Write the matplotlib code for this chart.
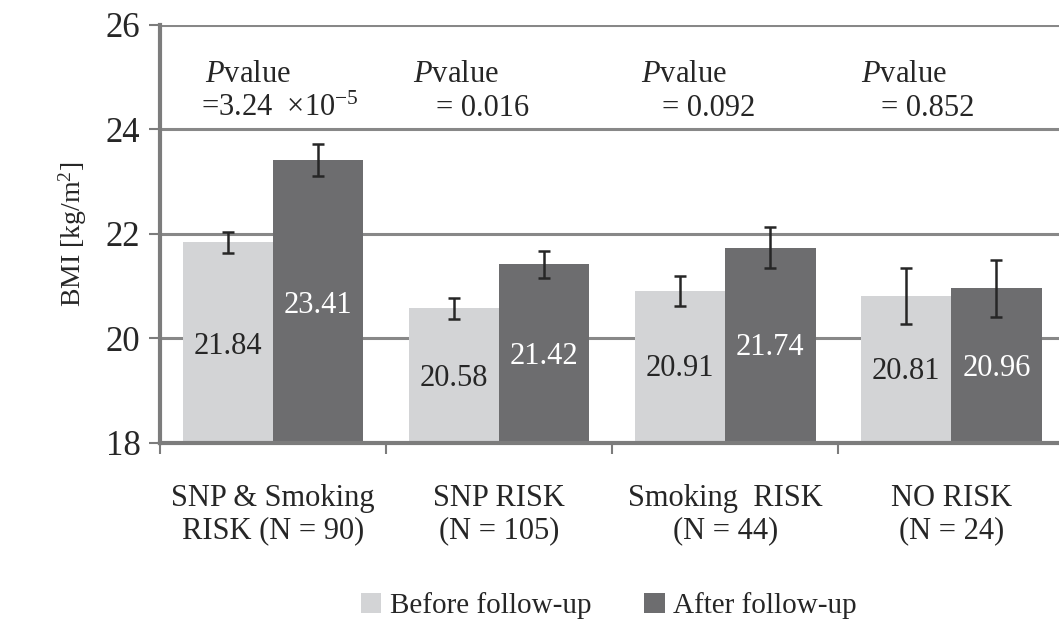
import matplotlib.pyplot as plt
import numpy as np

# BMI before and after follow-up, by risk group
groups = ['SNP & Smoking\nRISK (N = 90)', 'SNP RISK\n(N = 105)',
          'Smoking  RISK\n(N = 44)', 'NO RISK\n(N = 24)']
before = [21.84, 20.58, 20.91, 20.81]
after = [23.41, 21.42, 21.74, 20.96]
before_err = [0.20, 0.20, 0.28, 0.53]
after_err = [0.31, 0.26, 0.40, 0.55]
p_values = [r'=3.24  $\times$10$^{-5}$', '= 0.016', '= 0.092', '= 0.852']

plt.rcParams['font.family'] = ['Liberation Serif', 'DejaVu Serif']
plt.rcParams['mathtext.fontset'] = 'custom'
plt.rcParams['mathtext.rm'] = 'Liberation Serif'
plt.rcParams['mathtext.it'] = 'Liberation Serif:italic'

LIGHT = '#d3d4d6'
DARK = '#6d6d6f'
AXIS = '#7c7c7c'
TXT = '#262626'

fig = plt.figure(figsize=(10.59, 6.23), dpi=100)
ax = fig.add_axes([0.151, 0.289, 0.854, 0.671])

x = np.arange(len(groups)) + 0.5
w = 0.4
ax.bar(x - w / 2, before, w, color=LIGHT, zorder=2, label='Before follow-up')
ax.bar(x + w / 2, after, w, color=DARK, zorder=2, label='After follow-up')
ax.errorbar(x - w / 2, before, yerr=before_err, fmt='none', ecolor=TXT,
            elinewidth=1.8, capsize=4.5, capthick=1.8, zorder=3)
ax.errorbar(x + w / 2, after, yerr=after_err, fmt='none', ecolor=TXT,
            elinewidth=1.8, capsize=4.5, capthick=1.8, zorder=3)

# value labels inside the bars
before_label_y = [19.85, 19.23, 19.42, 19.36]
after_label_y = [20.64, 19.66, 19.83, 19.42]
for i in range(len(groups)):
    ax.text(x[i] - w / 2, before_label_y[i], f'{before[i]:.2f}', ha='center',
            va='center', fontsize=22, color=TXT, zorder=4)
    ax.text(x[i] + w / 2, after_label_y[i], f'{after[i]:.2f}', ha='center',
            va='center', fontsize=22, color='white', zorder=4)

# P value annotations above each group
p_dx = [0.2, 0.12, 0.13, 0.1]
eq_dx = [0.18, 0.22, 0.22, 0.19]
for i in range(len(groups)):
    ax.text(i + p_dx[i], 25.05, r'$\mathit{P}$value', fontsize=22, ha='left',
            va='center', color=TXT)
    ax.text(i + eq_dx[i], 24.4, p_values[i], fontsize=22, ha='left',
            va='center', color=TXT)

ax.set_xlim(0, 4)
ax.set_ylim(18, 26)
ax.set_yticks([18, 20, 22, 24, 26])
ax.set_xticks([0, 1, 2, 3, 4])
ax.set_xticklabels([])
ax.yaxis.grid(True, color='#888888', linewidth=2.2, zorder=0)
ax.set_axisbelow(True)
for s in ['top', 'right']:
    ax.spines[s].set_visible(False)
for s in ['left', 'bottom']:
    ax.spines[s].set_color(AXIS)
    ax.spines[s].set_linewidth(3)
ax.tick_params(axis='y', length=8, width=1.5, color=AXIS, labelsize=25,
               labelcolor=TXT, pad=6)
ax.tick_params(axis='x', length=8, width=1.5, color=AXIS)

for i, g in enumerate(groups):
    ax.text(x[i], 17.22, g, ha='center', va='top', fontsize=22,
            color=TXT, linespacing=1.15)

ax.set_ylabel('BMI [kg/m$^2$]', fontsize=20, color=TXT, labelpad=12)

fig.legend(loc='center', bbox_to_anchor=(0.575, 0.028), ncol=2, frameon=False,
           fontsize=21, handlelength=0.7, handleheight=0.7, handletextpad=0.3,
           columnspacing=1.8, labelcolor=TXT)

fig.savefig('out.png', dpi=100)
